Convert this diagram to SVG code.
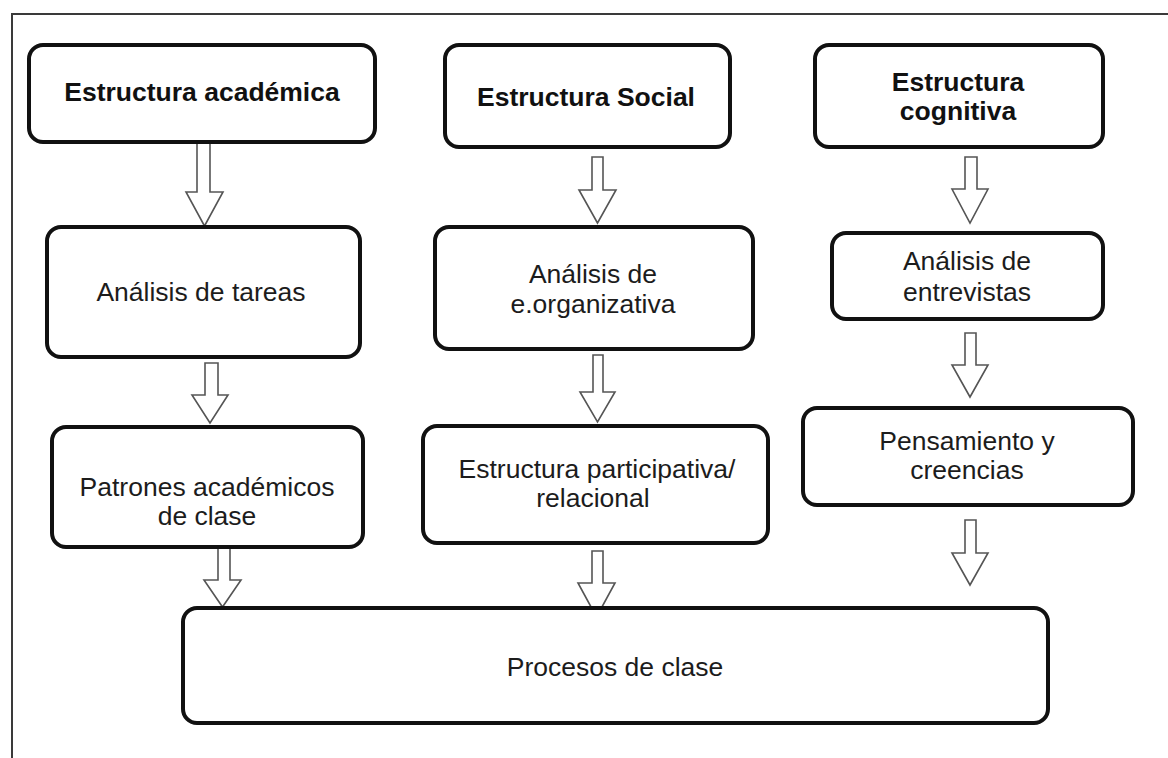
<svg xmlns="http://www.w3.org/2000/svg" width="1168" height="758" viewBox="0 0 1168 758">
<style>
.box{fill:#ffffff;stroke:#111111;stroke-width:4;}
.arrow{fill:#ffffff;stroke:#555555;stroke-width:1.6;stroke-linejoin:miter;}
.t{font-family:"Liberation Sans",Arial,sans-serif;font-size:26.5px;fill:#1c1c1c;text-anchor:middle;}
.b{font-weight:bold;fill:#111111;}
.frame{fill:none;stroke:#3a3a3a;stroke-width:2;}
</style>
<rect x="0" y="0" width="1168" height="758" fill="#ffffff"/>
<path class="frame" d="M12,758 V14 H1168"/>

<g id="connectors">
  <path class="arrow" d="M197,142 V192 H186 L204.5,226 L223,192 H210 V142 Z"/>
  <path class="arrow" d="M205,363 V395 H192 L210,423 L228,395 H218 V363 Z"/>
  <path class="arrow" d="M218,548 V580 H204 L222.5,607 L241,580 H230 V548 Z"/>
  <path class="arrow" d="M592,157 V190 H579 L597.5,223 L616,190 H603 V157 Z"/>
  <path class="arrow" d="M593,355 V392 H580 L597.5,422 L615,392 H603 V355 Z"/>
  <path class="arrow" d="M592,551 V583 H578 L596.5,617 L615,583 H603 V551 Z"/>
  <path class="arrow" d="M965,157 V189 H952 L970,223 L988,189 H977 V157 Z"/>
  <path class="arrow" d="M965,333 V365 H952 L970,397 L988,365 H976 V333 Z"/>
  <path class="arrow" d="M965,520 V553 H952 L970,585 L988,553 H976 V520 Z"/>
</g>

<g id="n1">
  <rect class="box" x="29" y="45" width="346" height="97" rx="14"/>
  <text class="t b" x="202" y="101">Estructura académica</text>
</g>
<g id="n2">
  <rect class="box" x="445" y="45" width="285" height="102" rx="14"/>
  <text class="t b" x="586" y="106">Estructura Social</text>
</g>
<g id="n3">
  <rect class="box" x="815" y="45" width="288" height="102" rx="14"/>
  <text class="t b" x="958" y="91">Estructura</text>
  <text class="t b" x="958" y="120">cognitiva</text>
</g>
<g id="n4">
  <rect class="box" x="47" y="227" width="313" height="130" rx="14"/>
  <text class="t" x="201" y="301">Análisis de tareas</text>
</g>
<g id="n5">
  <rect class="box" x="435" y="227" width="318" height="122" rx="14"/>
  <text class="t" x="593" y="283">Análisis de</text>
  <text class="t" x="593" y="313">e.organizativa</text>
</g>
<g id="n6">
  <rect class="box" x="832" y="233" width="271" height="86" rx="14"/>
  <text class="t" x="967" y="270">Análisis de</text>
  <text class="t" x="967" y="301">entrevistas</text>
</g>
<g id="n7">
  <rect class="box" x="52" y="427" width="311" height="120" rx="14"/>
  <text class="t" x="207" y="496">Patrones académicos</text>
  <text class="t" x="207" y="525">de clase</text>
</g>
<g id="n8">
  <rect class="box" x="423" y="426" width="345" height="117" rx="14"/>
  <text class="t" x="597" y="478">Estructura participativa/</text>
  <text class="t" x="593" y="507">relacional</text>
</g>
<g id="n9">
  <rect class="box" x="803" y="408" width="330" height="97" rx="14"/>
  <text class="t" x="967" y="450">Pensamiento y</text>
  <text class="t" x="967" y="479">creencias</text>
</g>
<g id="n10">
  <rect class="box" x="183" y="608" width="865" height="115" rx="14"/>
  <text class="t" x="615" y="676">Procesos de clase</text>
</g>
</svg>
